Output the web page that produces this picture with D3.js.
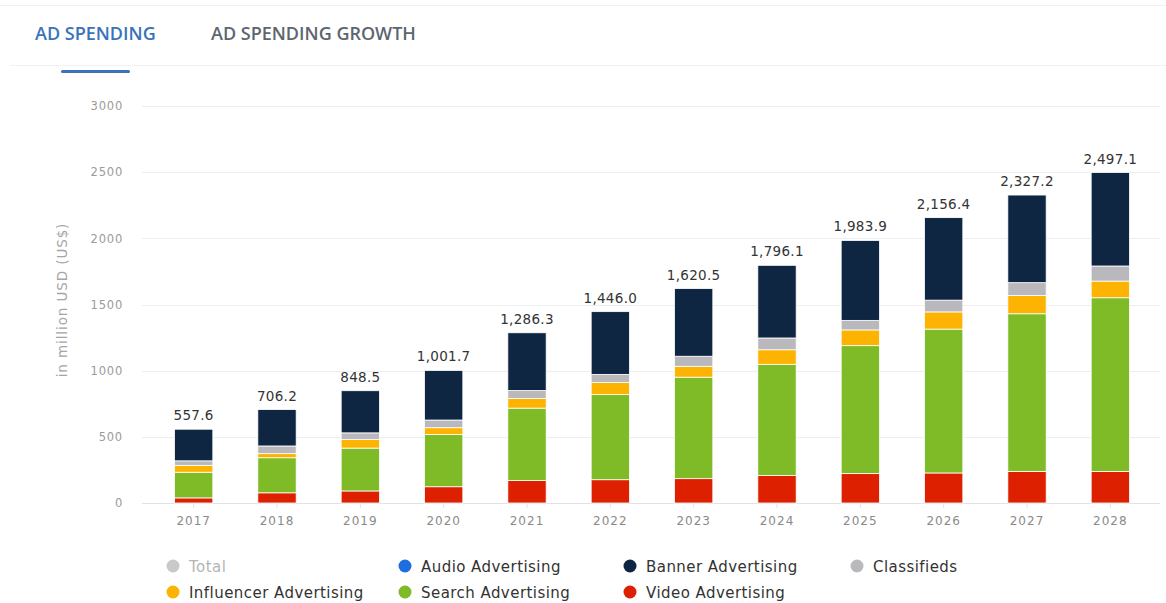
<!DOCTYPE html>
<html>
<head>
<meta charset="utf-8">
<script src="https://cdn.jsdelivr.net/npm/d3@7"></script>
<style>
  html, body { margin: 0; padding: 0; background: #fff; }
  svg { display: block; }
</style>
</head>
<body>
<svg id="chart" width="1166" height="603"></svg>
<script>
// Ad spending by segment, in million USD
const years = ["2017", "2018", "2019", "2020", "2021", "2022", "2023", "2024", "2025", "2026", "2027", "2028"];
const totals = [557.6, 706.2, 848.5, 1001.7, 1286.3, 1446.0, 1620.5, 1796.1, 1983.9, 2156.4, 2327.2, 2497.1];
const videoAdvertising = [38.6, 77, 91, 123, 170, 176, 184, 207, 222, 227, 239, 238];
const audioAdvertising = [0, 0, 0, 0, 0, 0, 0, 0, 0, 0, 0, 0];
const searchAdvertising = [194, 265, 324, 395, 547, 643, 767, 841, 967, 1087, 1191, 1313];
const influencerAdvertising = [52, 31, 64, 51, 72, 92, 82, 110, 119, 130, 138, 126];
const classifieds = [34, 58, 51, 58, 61, 61, 76, 89, 72, 89, 97, 114];
const bannerAdvertising = [239, 275.2, 318.5, 374.7, 436.3, 474.0, 511.5, 549.1, 603.9, 623.4, 662.2, 706.1];
const yTicks = [0, 500, 1000, 1500, 2000, 2500, 3000];

const seriesDefs = [
  { key: "Video Advertising", values: videoAdvertising, color: "#dd2000" },
  { key: "Audio Advertising", values: audioAdvertising, color: "#1d6fe0" },
  { key: "Search Advertising", values: searchAdvertising, color: "#7fba27" },
  { key: "Influencer Advertising", values: influencerAdvertising, color: "#fdb302" },
  { key: "Classifieds", values: classifieds, color: "#b9b9bd" },
  { key: "Banner Advertising", values: bannerAdvertising, color: "#0e2642" }
];

const rows = years.map((y, i) => {
  const r = { year: y, total: totals[i] };
  seriesDefs.forEach(s => { r[s.key] = s.values[i]; });
  return r;
});

const svg = d3.select("#chart");
const W = 1166;
const FONT = "DejaVu Sans";

// tab header
svg.append("line").attr("x1", 0).attr("x2", W).attr("y1", 5.5).attr("y2", 5.5)
  .attr("stroke", "#eef0f2").attr("stroke-width", 1);
svg.append("line").attr("x1", 10).attr("x2", W).attr("y1", 65.5).attr("y2", 65.5)
  .attr("stroke", "#f1f2f4").attr("stroke-width", 1);
svg.append("text").attr("x", 35).attr("y", 40)
  .attr("font-family", "Open Sans").attr("font-weight", 600).attr("font-size", 18)
  .attr("fill", "#3a73b9").text("AD SPENDING");
svg.append("text").attr("x", 211).attr("y", 40)
  .attr("font-family", "Open Sans").attr("font-weight", 600).attr("font-size", 18)
  .attr("fill", "#5d6670").text("AD SPENDING GROWTH");
svg.append("rect").attr("x", 61).attr("y", 70).attr("width", 69).attr("height", 3)
  .attr("rx", 1.5).attr("fill", "#3a73b9");

// scales
const x = d3.scaleBand().domain(years).range([152, 1152]).paddingInner(0.54).paddingOuter(0.27);
const y = d3.scaleLinear().domain([0, 3000]).range([503, 106]);

// grid
const grid = svg.append("g");
grid.selectAll("line").data(yTicks).join("line")
  .attr("x1", 142).attr("x2", 1160)
  .attr("y1", d => Math.round(y(d)) + 0.5).attr("y2", d => Math.round(y(d)) + 0.5)
  .attr("stroke", d => d === 0 ? "#dfe3e8" : "#eceef1").attr("stroke-width", 1);

// y axis labels
const yAxis = svg.append("g").attr("transform", "translate(123,0)")
  .call(d3.axisLeft(y).tickValues(yTicks).tickSize(0).tickPadding(0).tickFormat(d3.format("d")));
yAxis.select(".domain").remove();
yAxis.selectAll("text").attr("font-family", FONT).attr("font-size", 11.5)
  .attr("letter-spacing", 0.8).attr("fill", "#9a9a9a");

svg.append("text")
  .attr("transform", "translate(67,300) rotate(-90)")
  .attr("text-anchor", "middle")
  .attr("font-family", FONT).attr("font-size", 13.5).attr("letter-spacing", 0.9).attr("fill", "#a5a5a5")
  .text("in million USD (US$)");

// x axis
const xAxis = svg.append("g").attr("transform", "translate(0,503)")
  .call(d3.axisBottom(x).tickSize(5).tickPadding(8));
xAxis.select(".domain").remove();
xAxis.selectAll("line").attr("stroke", "#dfe3e8");
xAxis.selectAll("text").attr("font-family", FONT).attr("font-size", 12)
  .attr("letter-spacing", 1).attr("fill", "#8a8a8a");

// stacked bars
const stack = d3.stack().keys(seriesDefs.map(s => s.key));
const layers = stack(rows);
const colorOf = new Map(seriesDefs.map(s => [s.key, s.color]));

svg.append("g").selectAll("g").data(layers).join("g")
  .attr("fill", d => colorOf.get(d.key))
  .selectAll("rect").data(d => d).join("rect")
  .attr("x", d => x(d.data.year))
  .attr("width", x.bandwidth())
  .attr("y", d => y(d[1]))
  .attr("height", d => Math.max(0, y(d[0]) - y(d[1])))
  .attr("stroke", "#fff").attr("stroke-width", d => (d[1] - d[0]) > 0 ? 0.8 : 0);

// total labels
const fmt = d3.format(",.1f");
svg.append("g").selectAll("text").data(rows).join("text")
  .attr("x", d => x(d.year) + x.bandwidth() / 2)
  .attr("y", d => y(d.total) - 9)
  .attr("text-anchor", "middle")
  .attr("font-family", FONT).attr("font-size", 13.5).attr("fill", "#333")
  .attr("letter-spacing", 0.3)
  .text(d => fmt(d.total));

// legend
const legendItems = [
  { label: "Total", color: "#c9c9c9", text: "#b5b5b5", cx: 173, row: 0 },
  { label: "Audio Advertising", color: "#1d6fe0", text: "#333", cx: 405, row: 0 },
  { label: "Banner Advertising", color: "#0e2642", text: "#333", cx: 630, row: 0 },
  { label: "Classifieds", color: "#b9b9bd", text: "#333", cx: 857, row: 0 },
  { label: "Influencer Advertising", color: "#fdb302", text: "#333", cx: 173, row: 1 },
  { label: "Search Advertising", color: "#7fba27", text: "#333", cx: 405, row: 1 },
  { label: "Video Advertising", color: "#dd2000", text: "#333", cx: 630, row: 1 }
];
const legend = svg.append("g").selectAll("g").data(legendItems).join("g")
  .attr("transform", d => `translate(${d.cx},${566 + d.row * 26})`);
legend.append("circle").attr("r", 6.5).attr("fill", d => d.color);
legend.append("text").attr("x", 16).attr("y", 5.5)
  .attr("font-family", FONT).attr("font-size", 15).attr("letter-spacing", 0.45).attr("fill", d => d.text)
  .text(d => d.label);
</script>
</body>
</html>
